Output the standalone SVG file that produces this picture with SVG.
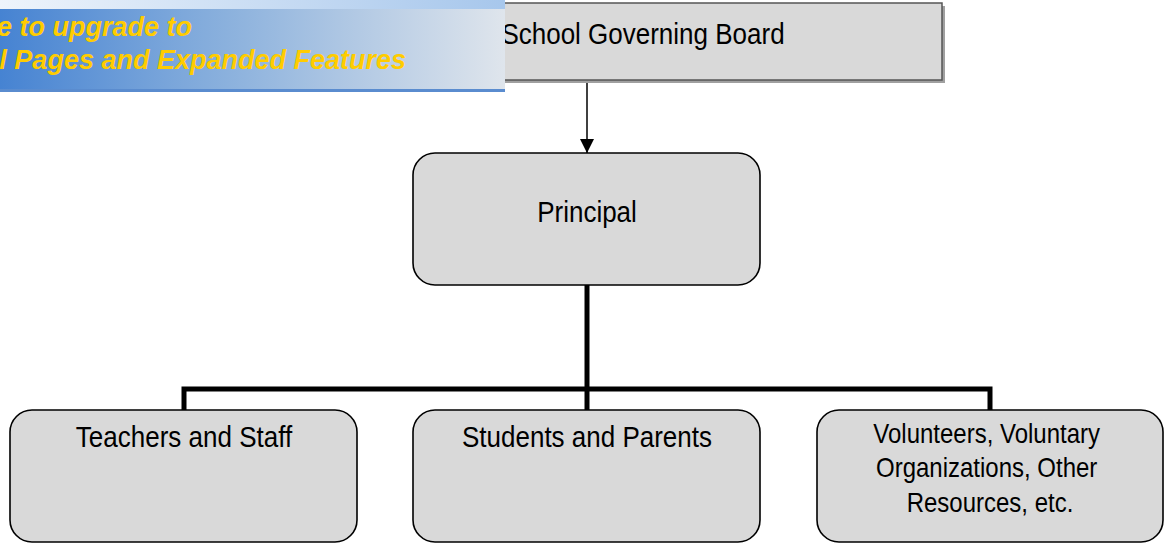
<svg xmlns="http://www.w3.org/2000/svg" width="1169" height="550" viewBox="0 0 1169 550">
  <defs>
    <linearGradient id="bannerBody" x1="0" y1="0" x2="1" y2="0">
      <stop offset="0" stop-color="#4683d2"/>
      <stop offset="0.45" stop-color="#8bb1dd"/>
      <stop offset="1" stop-color="#dfe5ec"/>
    </linearGradient>
    <linearGradient id="bannerTop" x1="0" y1="0" x2="1" y2="0">
      <stop offset="0" stop-color="#eef4fb"/>
      <stop offset="1" stop-color="#a7c7ec"/>
    </linearGradient>
    <marker id="arrow" viewBox="0 0 14 14" refX="14" refY="7" markerWidth="14" markerHeight="14" markerUnits="userSpaceOnUse" orient="auto">
      <path d="M0,0 L14,7 L0,14 Z" fill="#000"/>
    </marker>
  </defs>
  <style>
    .box { fill: #d9d9d9; stroke: #000; stroke-width: 1.6; }
    .label { font-family: "Liberation Sans", Arial, sans-serif; font-size: 26px; fill: #000; text-anchor: middle; }
    .small { font-size: 24px; }
    .thick { fill: none; stroke: #000; stroke-width: 5; }
    .promo { font-family: "Liberation Sans", Arial, sans-serif; font-size: 27px; font-weight: bold; font-style: italic; fill: #ffcc00; text-anchor: end; }
  </style>

  <!-- connectors -->
  <g id="connectors">
    <line x1="587" y1="81" x2="587" y2="153" stroke="#000" stroke-width="1.5" marker-end="url(#arrow)"/>
    <line x1="587" y1="285" x2="587" y2="410" class="thick"/>
    <polyline points="184,410 184,389 990,389 990,410" class="thick"/>
  </g>

  <!-- top node -->
  <g id="board">
    <rect x="348" y="6" width="597" height="77" fill="#a0a0a0"/>
    <rect x="345" y="3" width="597" height="77" fill="#d9d9d9" stroke="#555" stroke-width="1.5"/>
    <text transform="translate(643 44) scale(1 1.12)" class="label">School Governing Board</text>
  </g>

  <g id="principal">
    <rect x="413" y="153" width="347" height="132" rx="22" class="box"/>
    <text transform="translate(587 222) scale(1 1.12)" class="label">Principal</text>
  </g>

  <g id="teachers">
    <rect x="10" y="410" width="347" height="132" rx="22" class="box"/>
    <text transform="translate(184 447) scale(1 1.12)" class="label">Teachers and Staff</text>
  </g>

  <g id="students">
    <rect x="413" y="410" width="347" height="132" rx="22" class="box"/>
    <text transform="translate(587 447) scale(1 1.12)" class="label">Students and Parents</text>
  </g>

  <g id="volunteers">
    <rect x="817" y="410" width="346" height="132" rx="22" class="box"/>
    <text transform="translate(990 443) scale(1 1.12)" class="label small">
      <tspan x="0" y="0">Volunteers, Voluntary</tspan>
      <tspan x="0" y="30.5">Organizations, Other</tspan>
      <tspan x="0" y="61.5">Resources, etc.</tspan>
    </text>
  </g>

  <!-- promotional banner across the top-left corner -->
  <g id="banner">
    <rect x="0" y="0" width="505" height="92" fill="url(#bannerBody)"/>
    <rect x="0" y="0" width="505" height="9" fill="url(#bannerTop)"/>
    <rect x="0" y="89" width="505" height="3" fill="#5a8ccf"/>
    <text x="192" y="36" class="promo">e to upgrade to</text>
    <text x="406" y="69" class="promo">l Pages and Expanded Features</text>
  </g>
</svg>
